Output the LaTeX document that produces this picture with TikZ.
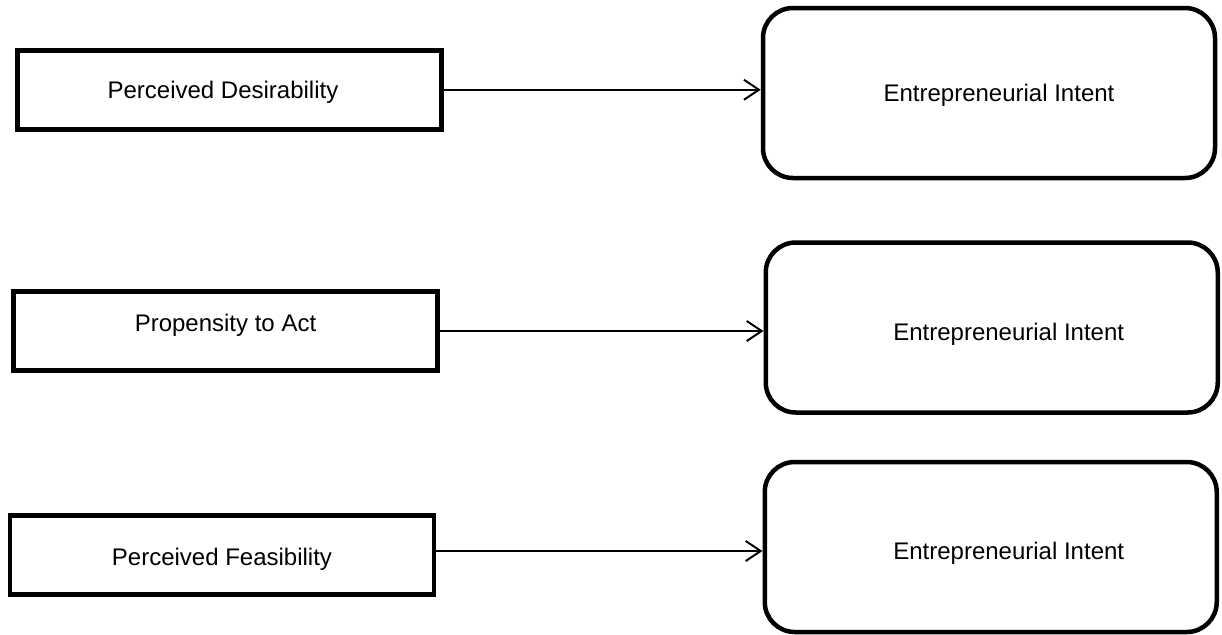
\documentclass[tikz,border=0pt]{standalone}
\usepackage{fontspec}
\setmainfont{Liberation Sans}
\usetikzlibrary{arrows.meta}

\tikzset{
  factor/.style={draw, rectangle, line width=2.25pt, minimum width=212pt, minimum height=39.5pt,
    font=\fontsize{12}{14}\selectfont, text height=9pt, text depth=0.4pt},
  intent/.style={draw, rectangle, rounded corners=15pt, line width=2.25pt, minimum width=226pt,
    minimum height=85pt, font=\fontsize{12}{14}\selectfont, text height=9pt, text depth=0.4pt},
  flow/.style={draw, line width=1pt, -{Straight Barb[length=7.5pt, width=10pt]}}
}

\begin{document}
\begin{tikzpicture}[x=0.5pt, y=-0.5pt]
\useasboundingbox (0,0) rectangle (1222,634);

\node[factor] (pd) at (229.5,89.75) {Perceived Desirability\hspace*{6.5pt}};
\node[factor, text depth=8.4pt] (pa) at (225.5,331) {Propensity to Act};
\node[factor, text height=11pt] (pf) at (222,555) {Perceived Feasibility};

\node[intent] (ei1) at (989,93) {\hspace*{10pt}Entrepreneurial Intent};
\node[intent, text height=13pt] (ei2) at (991.75,327.5) {\hspace*{17pt}Entrepreneurial Intent};
\node[intent, text height=13pt] (ei3) at (990.75,547) {\hspace*{18pt}Entrepreneurial Intent};

\path[flow] (pd) -- (pd -| ei1.west);
\path[flow] (pa) -- (pa -| ei2.west);
\path[flow] ([yshift=2pt]pf.east) -- ([yshift=2pt]pf.east -| ei3.west);
\end{tikzpicture}
\end{document}
